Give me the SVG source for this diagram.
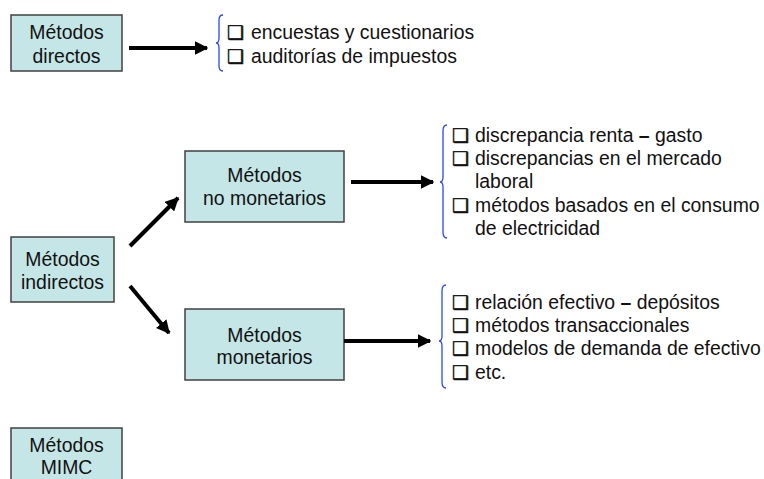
<svg xmlns="http://www.w3.org/2000/svg" width="764" height="479" viewBox="0 0 764 479">
<style>
.box{fill:#c5e6e6;stroke:#404040;stroke-width:1.5}
.t{font-family:"Liberation Sans",Arial,sans-serif;font-size:19.4px;fill:#111}
.c{text-anchor:middle}
.cb{font-family:"DejaVu Sans",sans-serif;font-size:19px;fill:#111;stroke:#111;stroke-width:0.5}
.arr{stroke:#000;stroke-width:4;fill:none;marker-end:url(#ah)}
.br{stroke:#2a4bf0;stroke-width:1.3;fill:none}
</style>
<defs>
<marker id="ah" viewBox="0 0 10 10" refX="9" refY="5" markerWidth="3.4" markerHeight="3.4" orient="auto" markerUnits="strokeWidth">
<path d="M0,0 L10,5 L0,10 z" fill="#000"/>
</marker>
</defs>
<rect width="764" height="479" fill="#fff"/>
<g id="directos">
<rect class="box" x="11" y="15" width="111" height="56"/>
<text class="t c" x="66.5" y="38.5">Métodos</text>
<text class="t c" x="66.5" y="62.5">directos</text>
</g>
<g id="nomonetarios">
<rect class="box" x="185" y="151" width="159" height="71"/>
<text class="t c" x="264.5" y="181.5">Métodos</text>
<text class="t c" x="264.5" y="205">no monetarios</text>
</g>
<g id="indirectos">
<rect class="box" x="11" y="237" width="103" height="65"/>
<text class="t c" x="62.5" y="266">Métodos</text>
<text class="t c" x="62.5" y="288.5">indirectos</text>
</g>
<g id="monetarios">
<rect class="box" x="185" y="309" width="159" height="71"/>
<text class="t c" x="264.5" y="341.5">Métodos</text>
<text class="t c" x="264.5" y="364">monetarios</text>
</g>
<g id="mimc">
<rect class="box" x="11" y="428" width="111" height="70"/>
<text class="t c" x="66.5" y="451.5">Métodos</text>
<text class="t c" x="66.5" y="474">MIMC</text>
</g>
<g id="lista1">
<path class="br" d="M223,15 Q219,15 219,20 L219,38 Q219,43 216,43 Q219,43 219,48 L219,66 Q219,71 223,71"/>
<text class="cb" x="227" y="38.5">❑</text>
<text class="t" x="251" y="38.5">encuestas y cuestionarios</text>
<text class="cb" x="227" y="62.5">❑</text>
<text class="t" x="251" y="62.5">auditorías de impuestos</text>
</g>
<g id="lista2">
<path class="br" d="M447,125 Q443,125 443,131 L443,177 Q443,182 440,182 Q443,182 443,187 L443,232 Q443,238 447,238"/>
<text class="cb" x="452" y="141.5">❑</text>
<text class="t" x="475" y="141.5">discrepancia renta <tspan font-weight="bold">–</tspan> gasto</text>
<text class="cb" x="452" y="165">❑</text>
<text class="t" x="475" y="165">discrepancias en el mercado</text>
<text class="t" x="475" y="188">laboral</text>
<text class="cb" x="452" y="211.5">❑</text>
<text class="t" x="475" y="211.5">métodos basados en el consumo</text>
<text class="t" x="475" y="235">de electricidad</text>
</g>
<g id="lista3">
<path class="br" d="M446,285 Q442,285 442,291 L442,336 Q442,341 439,341 Q442,341 442,346 L442,382 Q442,388 446,388"/>
<text class="cb" x="452" y="308.5">❑</text>
<text class="t" x="475" y="308.5">relación efectivo <tspan font-weight="bold">–</tspan> depósitos</text>
<text class="cb" x="452" y="331.5">❑</text>
<text class="t" x="475" y="331.5">métodos transaccionales</text>
<text class="cb" x="452" y="355">❑</text>
<text class="t" x="475" y="355">modelos de demanda de efectivo</text>
<text class="cb" x="452" y="378.5">❑</text>
<text class="t" x="475" y="378.5">etc.</text>
</g>
<g id="connectors">
<line class="arr" x1="129" y1="48" x2="207" y2="48"/>
<line class="arr" x1="130" y1="246" x2="178" y2="198"/>
<line class="arr" x1="130" y1="286" x2="169" y2="333"/>
<line class="arr" x1="351" y1="182" x2="433" y2="182"/>
<line class="arr" x1="344" y1="341" x2="430" y2="341"/>
</g>
</svg>
